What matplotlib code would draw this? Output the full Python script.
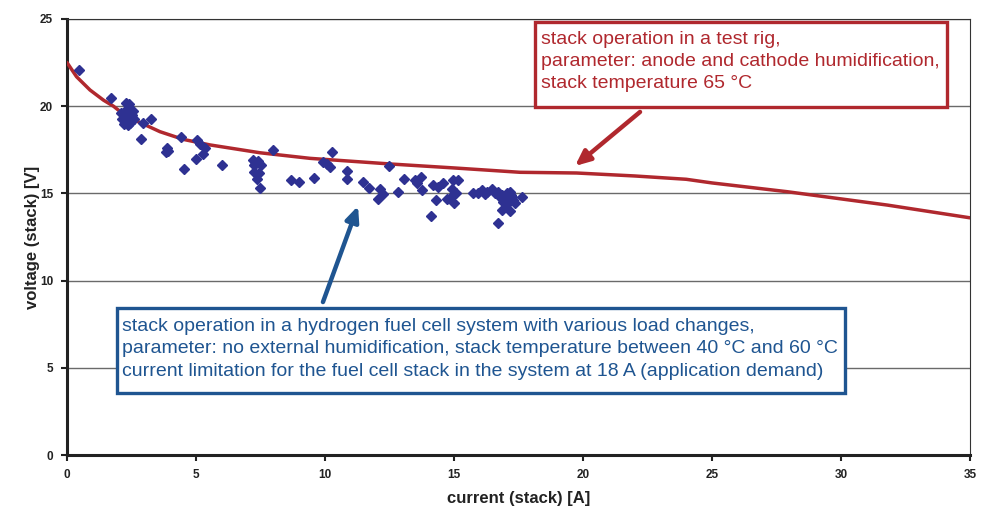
import matplotlib
matplotlib.use("Agg")
import matplotlib.pyplot as plt
from matplotlib.patches import Rectangle

plt.rcParams['font.family'] = ['Liberation Sans', 'DejaVu Sans']

# Measured data: fuel cell system (scatter)
sys_current = [0.47, 1.69, 2.28, 2.41, 2.10, 2.20, 2.30, 2.40, 2.20, 2.35, 2.50, 2.30, 2.45, 2.15, 2.55,
               2.60, 2.93, 3.26, 2.88, 4.41, 5.03, 5.16, 5.35, 3.86, 3.93, 3.83, 4.99, 5.28, 4.53, 6.00,
               8.00, 7.20, 7.30, 7.40, 7.50, 7.25, 7.26, 7.44, 7.35, 7.48, 8.68, 8.98, 9.59, 10.26, 9.91,
               10.06, 10.19, 10.84, 10.84, 11.46, 11.72, 12.13, 12.26, 12.07, 12.49, 12.84, 13.06, 13.49,
               13.55, 13.71, 13.75, 14.10, 14.20, 14.39, 14.59, 14.29, 14.72, 14.84, 14.97, 15.17, 14.91,
               15.07, 15.00, 15.75, 15.94, 16.07, 16.20, 16.27, 16.46, 16.59, 16.72, 16.85, 16.91, 17.04,
               17.17, 17.24, 17.30, 17.36, 17.62, 16.85, 17.17, 16.72, 16.80, 16.95, 17.00, 17.10, 16.90,
               17.05, 16.75, 17.20]
sys_voltage = [22.08, 20.45, 20.17, 20.11, 19.60, 19.40, 19.80, 19.20, 19.00, 18.90, 19.50, 19.50, 19.05, 19.25, 19.70,
               19.25, 19.05, 19.27, 18.10, 18.25, 18.06, 17.83, 17.62, 17.59, 17.45, 17.36, 16.99, 17.26, 16.40, 16.65,
               17.49, 16.90, 16.70, 16.85, 16.60, 16.60, 16.24, 16.15, 15.83, 15.31, 15.79, 15.64, 15.90, 17.39, 16.82,
               16.69, 16.53, 16.30, 15.84, 15.67, 15.29, 15.25, 14.97, 14.66, 16.59, 15.06, 15.81, 15.77,
               15.58, 15.96, 15.19, 13.72, 15.48, 15.38, 15.61, 14.62, 14.68, 14.72, 15.77, 15.77, 15.25,
               15.04, 14.47, 15.00, 15.04, 15.19, 14.95, 15.10, 15.24, 15.00, 15.10, 14.91, 14.72, 15.00,
               15.10, 14.81, 14.62, 14.43, 14.81, 14.05, 14.01, 13.32, 14.80, 14.60, 14.85, 14.70, 14.50,
               14.40, 14.95, 14.90]

# Test rig polarisation curve
rig_current = [0.0, 0.37, 0.89, 1.41, 1.8, 2.31, 3.0, 3.6, 4.5, 5.54, 7.48, 9.42, 12.5, 15.0, 17.56,
               19.75, 22.0, 24.0, 25.0, 27.9, 31.8, 35.0]
rig_voltage = [22.5, 21.69, 20.93, 20.35, 20.0, 19.4, 18.95, 18.54, 18.1, 17.78, 17.33, 17.01, 16.69, 16.46, 16.21,
               16.17, 16.0, 15.81, 15.6, 15.1, 14.33, 13.6]

x_ticks = [0, 5, 10, 15, 20, 25, 30, 35]
y_ticks = [0, 5, 10, 15, 20, 25]

red_text = ("stack operation in a test rig,\n"
            "parameter: anode and cathode humidification,\n"
            "stack temperature 65 \u00b0C")
blue_text = ("stack operation in a hydrogen fuel cell system with various load changes,\n"
             "parameter: no external humidification, stack temperature between 40 \u00b0C and 60 \u00b0C\n"
             "current limitation for the fuel cell stack in the system at 18 A (application demand)")

RED = '#B0282E'
BLUE = '#1F5591'
DOT = '#2E3192'

fig = plt.figure(figsize=(9.9, 5.12), dpi=100)
ax = fig.add_axes([0.0677, 0.1113, 0.9121, 0.8516])
ax.set_xlim(0, 35)
ax.set_ylim(0, 25)

for yv in y_ticks[1:]:
    ax.axhline(yv, color='#6a6a6a', lw=1.0, zorder=0)

ax.plot(rig_current, rig_voltage, color=RED, lw=2.5, zorder=3, solid_capstyle='round')
ax.plot(sys_current, sys_voltage, linestyle='none', marker='D', ms=5, color=DOT, mec=DOT, zorder=4)

ax.set_xticks(x_ticks)
ax.set_yticks(y_ticks)
ax.set_xticklabels([str(t) for t in x_ticks], fontweight='bold', fontsize=8.5, color='#222222')
ax.set_yticklabels([str(t) for t in y_ticks], fontweight='bold', fontsize=8.5, color='#222222')
ax.tick_params(axis='both', direction='out', length=4, width=1.5, color='#222222')
ax.tick_params(axis='x', pad=6)
ax.tick_params(axis='y', pad=6)

for s in ['left', 'bottom']:
    ax.spines[s].set_linewidth(2.2)
    ax.spines[s].set_color('#222222')
for s in ['top', 'right']:
    ax.spines[s].set_linewidth(0.8)
    ax.spines[s].set_color('#333333')

ax.set_xlabel('current (stack) [A]', fontweight='bold', fontsize=12, color='#222222')
ax.set_ylabel('voltage (stack) [V]', fontweight='bold', fontsize=12, color='#222222')
ax.xaxis.set_label_coords(0.5, -0.0986)
ax.yaxis.set_label_coords(-0.0377, 0.5)
ax.xaxis.label.set_va('center')
ax.yaxis.label.set_va('center')

# Annotation boxes
ax.add_patch(Rectangle((0.518, 0.798), 0.4565, 0.195, transform=ax.transAxes, fill=True,
                       facecolor='white', edgecolor=RED, lw=2.4, zorder=5, clip_on=False))
ax.text(0.5245, 0.9735, red_text, transform=ax.transAxes, ha='left', va='top', fontsize=14,
        color=RED, linespacing=1.42, zorder=6)

ax.add_patch(Rectangle((0.0554, 0.142), 0.8062, 0.195, transform=ax.transAxes, fill=True,
                       facecolor='white', edgecolor=BLUE, lw=2.4, zorder=5, clip_on=False))
ax.text(0.061, 0.3145, blue_text, transform=ax.transAxes, ha='left', va='top', fontsize=14,
        color=BLUE, linespacing=1.42, zorder=6)

# Arrows
ax.annotate('', xy=(19.69, 16.57), xytext=(22.21, 19.67),
            arrowprops=dict(arrowstyle='-|>,head_length=0.9,head_width=0.4', color=RED, lw=3.2,
                            shrinkA=0, shrinkB=0), zorder=6)
ax.annotate('', xy=(11.28, 14.28), xytext=(9.92, 8.77),
            arrowprops=dict(arrowstyle='-|>,head_length=0.9,head_width=0.4', color=BLUE, lw=3.2,
                            shrinkA=0, shrinkB=0), zorder=6)

fig.savefig('out.png', dpi=100, facecolor='white')
